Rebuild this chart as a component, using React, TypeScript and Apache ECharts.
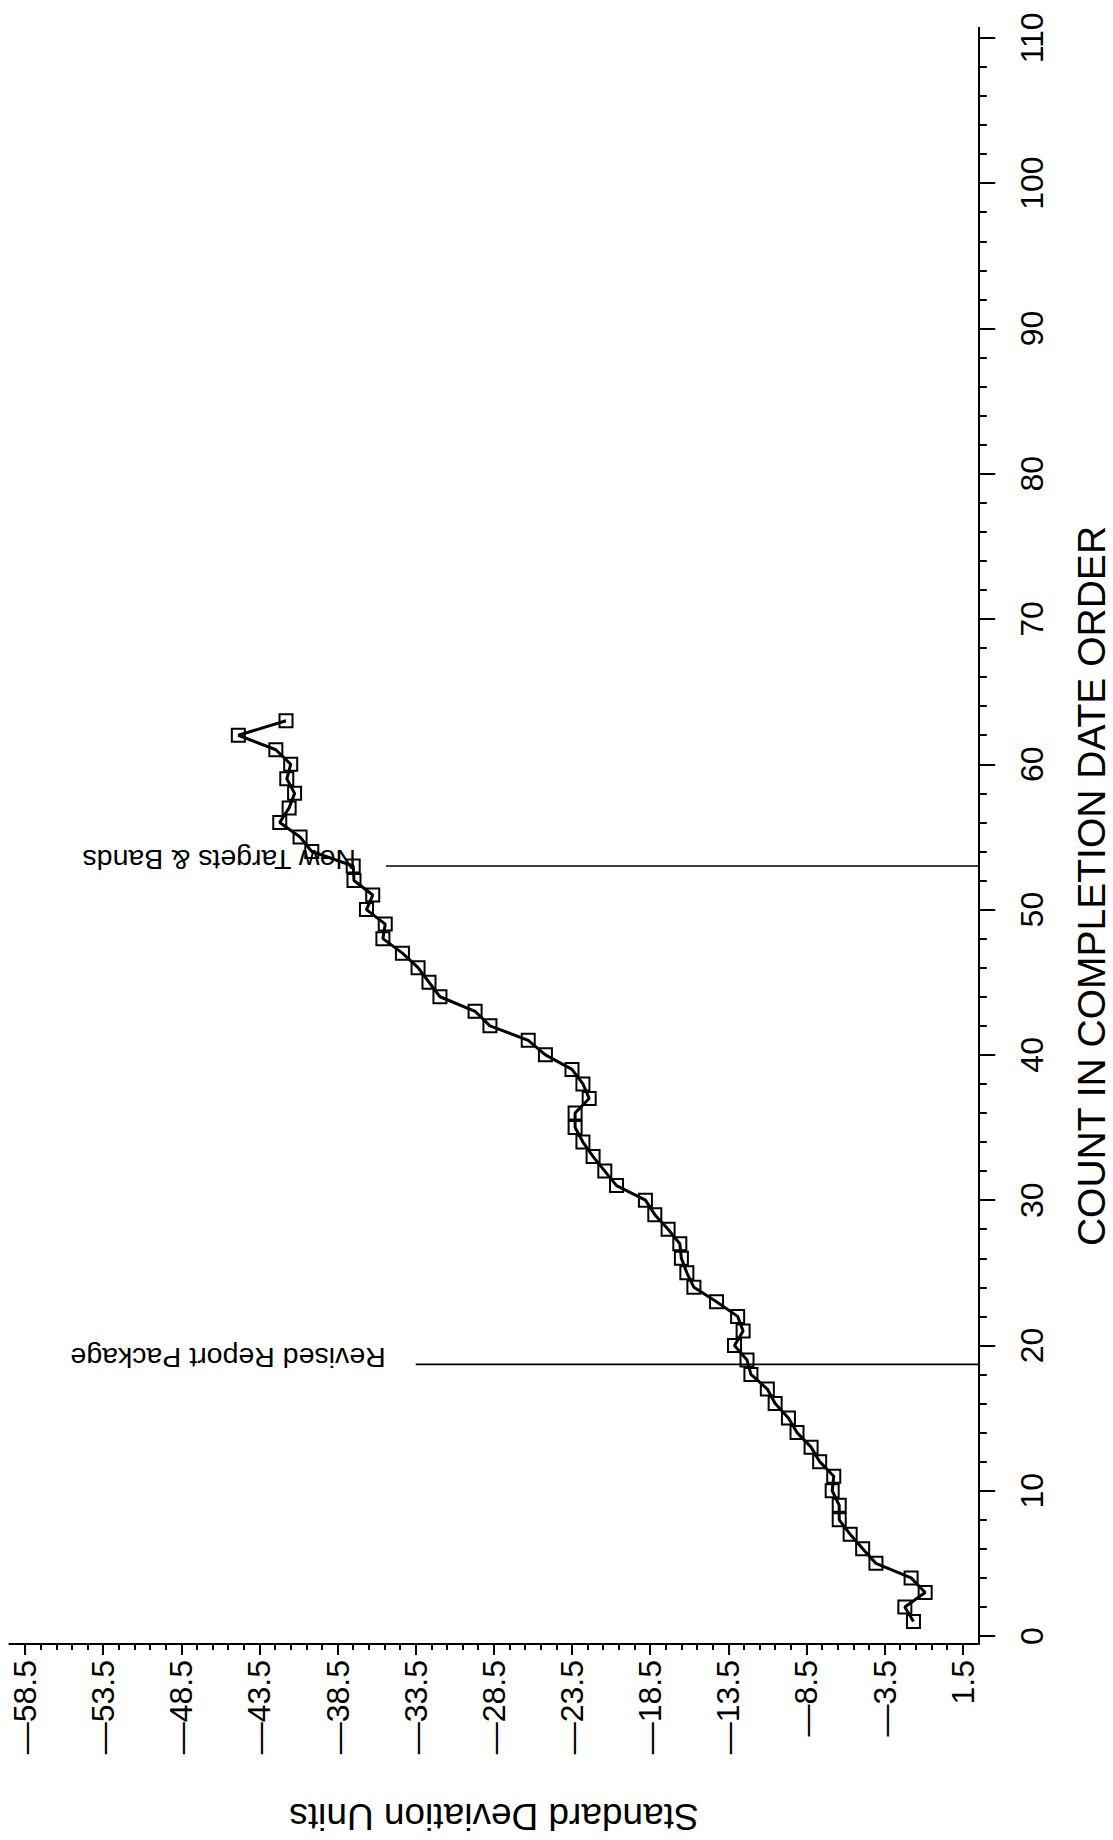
import React, { useEffect, useRef } from "react";
import * as echarts from "echarts";

// Standard deviation units for each job, in completion-date order (1..63)
const sdValues = [
  -1.65, -2.2, -0.9, -1.8, -4.05, -4.9, -5.7, -6.4, -6.4, -6.85,
  -6.75, -7.65, -8.2, -9.1, -9.65, -10.5, -11.0, -12.05, -12.3, -13.1,
  -12.55, -12.9, -14.25, -15.7, -16.15, -16.5, -16.6, -17.35, -18.2, -18.8,
  -20.65, -21.4, -22.15, -22.8, -23.3, -23.3, -22.4, -22.8, -23.5, -25.2,
  -26.3, -28.75, -29.7, -31.95, -32.65, -33.35, -34.35, -35.6, -35.45, -36.65,
  -36.25, -37.45, -37.5, -40.15, -40.9, -42.2, -41.6, -41.25, -41.75, -41.5,
  -42.45, -44.85, -41.8,
];

// Tick labels
const sdTickValues = [-58.5, -53.5, -48.5, -43.5, -38.5, -33.5, -28.5, -23.5, -18.5, -13.5, -8.5, -3.5, 1.5];
const countTickValues = [0, 10, 20, 30, 40, 50, 60, 70, 80, 90, 100, 110];

// Event markers: label, count position, SD where the marker line starts
const markerLabels = ["Revised Report Package", "New Targets & Bands"];
const markerCounts = [18.7, 53];
const markerStartSd = [-33.5, -35.4];

const SD_MIN = -59.5;
const SD_MAX = 2.5;
const COUNT_MIN = -0.55;
const COUNT_MAX = 110.7;

const FONT = "Liberation Sans, Arial, Helvetica, sans-serif";

function minorTicks(from: number, to: number, step: number): number[] {
  const out: number[] = [];
  for (let v = from; v <= to + 1e-9; v += step) out.push(Math.round(v * 10) / 10);
  return out;
}

export default function App() {
  const ref = useRef<HTMLDivElement>(null);

  useEffect(() => {
    document.body.style.margin = "0";
    const chart = echarts.init(ref.current!, undefined, { renderer: "svg" });
    const black = "#000";
    // long dash for negatives, as on the plotter's axis
    const fmtSd = (v: number) => (v < 0 ? "\u2014" + Math.abs(v).toFixed(1) : v.toFixed(1));

    const points = sdValues.map((v, i) => [v, i + 1]);

    const markerSeries = markerLabels.map((name, i) => ({
      name,
      type: "line",
      xAxisIndex: 0,
      yAxisIndex: 0,
      data: [
        [markerStartSd[i], markerCounts[i]],
        [SD_MAX, markerCounts[i]],
      ],
      symbol: "none",
      lineStyle: { color: black, width: 1.6 },
      silent: true,
    }));

    chart.setOption({
      animation: false,
      backgroundColor: "#fff",
      grid: { left: 9.4, right: 134.7, top: 27.7, bottom: 196 },
      xAxis: [
        {
          type: "value",
          position: "bottom",
          min: SD_MIN,
          max: SD_MAX,
          axisLine: { show: true, onZero: false, lineStyle: { color: black, width: 2 } },
          axisTick: { show: true, customValues: sdTickValues, length: 11, lineStyle: { color: black, width: 2 } },
          axisLabel: {
            customValues: sdTickValues,
            rotate: 90,
            formatter: fmtSd,
            fontSize: 32,
            fontFamily: FONT,
            color: black,
            margin: 16,
          },
          splitLine: { show: false },
        },
        {
          type: "value",
          position: "bottom",
          min: SD_MIN,
          max: SD_MAX,
          axisLine: { show: false, onZero: false },
          axisTick: { show: true, customValues: minorTicks(-58.5, 1.5, 1), length: 6, lineStyle: { color: black, width: 2 } },
          axisLabel: { show: false },
          splitLine: { show: false },
        },
      ],
      yAxis: [
        {
          type: "value",
          position: "right",
          min: COUNT_MIN,
          max: COUNT_MAX,
          axisLine: { show: true, onZero: false, lineStyle: { color: black, width: 2 } },
          axisTick: { show: true, customValues: countTickValues, length: 17, lineStyle: { color: black, width: 2 } },
          axisLabel: {
            customValues: countTickValues,
            rotate: 90,
            fontSize: 32,
            fontFamily: FONT,
            color: black,
            margin: 38,
          },
          splitLine: { show: false },
        },
        {
          type: "value",
          position: "right",
          min: COUNT_MIN,
          max: COUNT_MAX,
          axisLine: { show: false, onZero: false },
          axisTick: { show: true, customValues: minorTicks(0, 110, 2), length: 8.5, lineStyle: { color: black, width: 2 } },
          axisLabel: { show: false },
          splitLine: { show: false },
        },
      ],
      series: [
        ...markerSeries,
        {
          name: "Standard Deviation Units",
          type: "line",
          xAxisIndex: 0,
          yAxisIndex: 0,
          data: points,
          smooth: false,
          symbol: "rect",
          symbolSize: 13,
          lineStyle: { color: black, width: 3 },
          itemStyle: { color: "transparent", borderColor: black, borderWidth: 2 },
          z: 3,
        },
      ],
    });

    // Marker captions and axis titles, drawn upside down / sideways like the plot's frame
    const captions = markerLabels.map((label, i) => {
      const p = chart.convertToPixel({ xAxisIndex: 0, yAxisIndex: 0 }, [markerStartSd[i], markerCounts[i]]) as number[];
      return {
        type: "text",
        x: p[0] - 30,
        y: p[1] - 6,
        rotation: Math.PI,
        style: {
          text: label,
          fontSize: 28.5,
          fontFamily: FONT,
          fill: black,
          textAlign: "left",
          textVerticalAlign: "middle",
          align: "left",
          verticalAlign: "middle",
        },
      };
    });

    chart.setOption({
      graphic: [
        ...captions,
        {
          type: "text",
          x: 1091,
          y: 886,
          rotation: Math.PI / 2,
          style: {
            text: "COUNT IN COMPLETION DATE ORDER",
            fontSize: 39,
            lineHeight: 39,
            fontFamily: FONT,
            fill: black,
            textAlign: "center",
            textVerticalAlign: "middle",
            align: "center",
            verticalAlign: "middle",
          },
        },
        {
          type: "text",
          x: 494,
          y: 1816,
          rotation: Math.PI,
          style: {
            text: "Standard Deviation Units",
            fontSize: 37,
            lineHeight: 37,
            fontFamily: FONT,
            fill: black,
            textAlign: "center",
            textVerticalAlign: "middle",
            align: "center",
            verticalAlign: "middle",
          },
        },
      ],
    });

    return () => chart.dispose();
  }, []);

  return (
    <div
      ref={ref}
      style={{ position: "absolute", left: 0, top: 0, width: 1113, height: 1840, background: "#fff" }}
    />
  );
}
